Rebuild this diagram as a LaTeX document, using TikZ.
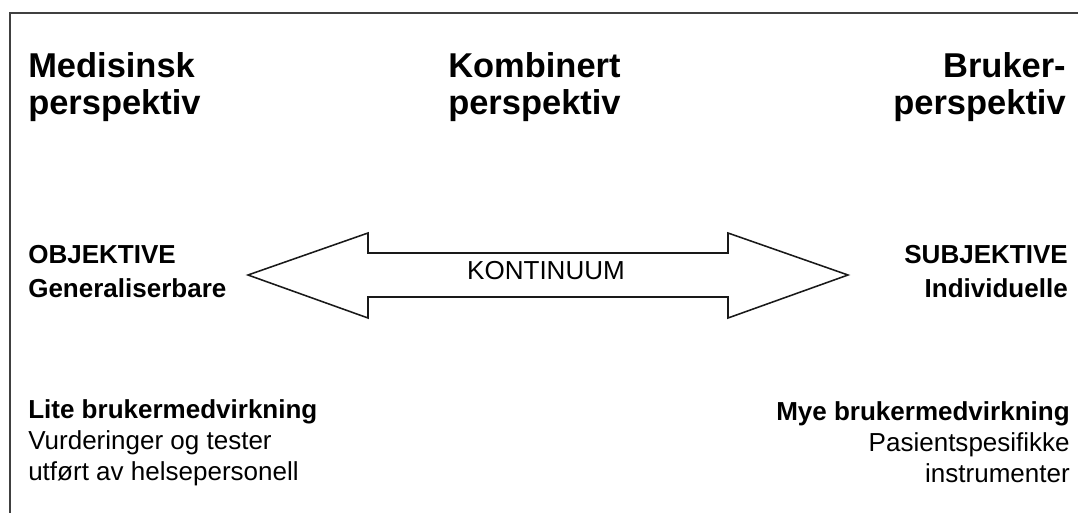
\documentclass[tikz,border=0pt]{standalone}
\usepackage{fontspec}
\setmainfont{Liberation Sans}
\usetikzlibrary{positioning}
\usetikzlibrary{calc}
\newcommand\mylines[3][]{#2\\#1 #3}

\begin{document}
\begin{tikzpicture}[
x=0.025cm, y=-0.025cm,
head/.style={inner sep=0pt, font=\bfseries\fontsize{24.5}{26.3}\selectfont},
pole/.style={inner sep=0pt, font=\bfseries\fontsize{18.5}{24}\selectfont},
note/.style={inner sep=0pt, font=\fontsize{18.5}{22}\selectfont},
frame/.style={draw=black!75, line width=1.6pt},
bigarrow/.style={draw=black!90, fill=white, line width=1.1pt}
]
\useasboundingbox (0,0) rectangle (1078,513);
\draw[frame] (1078,13) -- (10,13) -- (10,513);

% perspectives
\node[head, anchor=base west, align=left] (med) at (28,114) {\mylines{Medisinsk}{perspektiv}};
\node[head, anchor=base west, align=left] (komb) at (448,114) {\mylines{Kombinert}{perspektiv}};
\node[head, anchor=base east, align=right] (bruk) at (1066,114) {\mylines{Bruker-}{perspektiv}};

% continuum
\draw[bigarrow] (248,275) -- (368,233) -- (368,253) -- (728,253) -- (728,233) -- (848,275)
  -- (728,318) -- (728,297) -- (368,297) -- (368,318) -- cycle;
\node[note] (kont) at (546,271) {KONTINUUM};

\node[pole, anchor=base west, align=left] (obj) at (28,297) {\mylines{OBJEKTIVE}{Generaliserbare}};
\node[pole, anchor=base east, align=right] (subj) at (1068,297) {\mylines{SUBJEKTIVE}{Individuelle}};

% user involvement
\node[note, anchor=base west, align=left] (lite) at (28,480)
  {\textbf{Lite brukermedvirkning}\\Vurderinger og tester\\utført av helsepersonell};
\node[note, anchor=base east, align=right] (mye) at (1070,482)
  {\textbf{Mye brukermedvirkning}\\Pasientspesifikke\\instrumenter};
\end{tikzpicture}
\end{document}
